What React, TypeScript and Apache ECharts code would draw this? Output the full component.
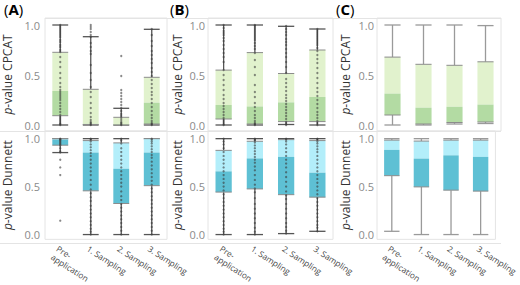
import React, { useEffect, useRef } from "react";
import * as echarts from "echarts";

const categories = ["Pre-\napplication", "1. Sampling", "2. Sampling", "3. Sampling"];
const panelLabels = ["A", "B", "C"];
const yTitleTop = "{i|p}-value CPCAT";
const yTitleBottom = "{i|p}-value Dunnett";

// box stats: [low whisker, q1, median, q3, high whisker]
const A_CPCAT_box = [[0, 0.093, 0.34, 0.727, 1.0], [0, 0.005, 0.012, 0.357, 0.883], [0, 0, 0.005, 0.077, 0.167], [0, 0.01, 0.223, 0.477, 0.957]];
const A_DUNNETT_box = [[0.855, 0.932, 0.99, 1.0, 1.0], [0, 0.456, 0.855, 0.98, 1.0], [0, 0.324, 0.686, 0.956, 1.0], [0, 0.51, 0.855, 1.0, 1.0]];
const B_CPCAT_box = [[0, 0.06, 0.2, 0.549, 1.0], [0, 0.01, 0.185, 0.724, 1.0], [0.005, 0.034, 0.226, 0.515, 0.987], [0, 0.034, 0.28, 0.75, 0.96]];
const B_DUNNETT_box = [[0, 0.443, 0.659, 0.878, 1.0], [0, 0.476, 0.794, 0.973, 1.0], [0.01, 0.416, 0.81, 0.99, 1.0], [0.034, 0.39, 0.645, 0.98, 1.0]];
const C_CPCAT_box = [[0, 0.1, 0.314, 0.679, 1.0], [0, 0.01, 0.173, 0.607, 1.0], [0.01, 0.025, 0.182, 0.597, 1.0], [0.015, 0.03, 0.204, 0.632, 0.994]];
const C_DUNNETT_box = [[0.034, 0.614, 0.883, 0.985, 1.0], [0, 0.497, 0.792, 0.975, 1.0], [0, 0.463, 0.826, 0.985, 1.0], [0, 0.453, 0.81, 0.985, 1.0]];

// individual p-values (points)
const A_CPCAT_pts = [
  [1.0, 0.98, 0.96, 0.94, 0.92, 0.9, 0.88, 0.85, 0.83, 0.8, 0.78, 0.75, 0.73, 0.68, 0.63, 0.58, 0.52, 0.47, 0.42, 0.38, 0.35, 0.33, 0.31, 0.29, 0.27, 0.25, 0.22, 0.19, 0.16, 0.13, 0.1, 0.08, 0.06, 0.04, 0.02, 0.01, 0],
  [1.0, 0.98, 0.96, 0.93, 0.9, 0.88, 0.82, 0.78, 0.74, 0.71, 0.6, 0.52, 0.45, 0.38, 0.33, 0.28, 0.22, 0.17, 0.12, 0.08, 0.05, 0.03, 0.02, 0.01, 0],
  [0.69, 0.49, 0.35, 0.32, 0.29, 0.26, 0.23, 0.2, 0.17, 0.14, 0.11, 0.09, 0.07, 0.05, 0.03, 0.02, 0.01, 0],
  [0.96, 0.9, 0.84, 0.79, 0.74, 0.7, 0.66, 0.62, 0.57, 0.53, 0.49, 0.45, 0.41, 0.37, 0.33, 0.3, 0.26, 0.22, 0.18, 0.14, 0.1, 0.07, 0.04, 0.02, 0.01, 0],
];
const A_DUNNETT_pts = [
  [1.0, 0.995, 0.99, 0.98, 0.97, 0.96, 0.95, 0.94, 0.93, 0.9, 0.87, 0.855, 0.78, 0.7, 0.62, 0.145],
  [1.0, 0.99, 0.97, 0.94, 0.91, 0.88, 0.85, 0.82, 0.78, 0.74, 0.7, 0.66, 0.62, 0.57, 0.52, 0.47, 0.43, 0.39, 0.35, 0.3, 0.26, 0.22, 0.18, 0.14, 0.1, 0.06, 0.03, 0],
  [1.0, 0.98, 0.95, 0.9, 0.86, 0.82, 0.78, 0.74, 0.7, 0.66, 0.62, 0.58, 0.54, 0.5, 0.45, 0.4, 0.36, 0.32, 0.28, 0.24, 0.2, 0.16, 0.12, 0.08, 0.04, 0],
  [1.0, 0.99, 0.97, 0.95, 0.92, 0.89, 0.86, 0.83, 0.8, 0.76, 0.72, 0.68, 0.64, 0.6, 0.56, 0.52, 0.48, 0.44, 0.4, 0.36, 0.32, 0.28, 0.24, 0.2, 0.16, 0.12, 0.08, 0.04, 0],
];
const B_CPCAT_pts = [
  [1.0, 0.97, 0.94, 0.92, 0.9, 0.87, 0.84, 0.8, 0.76, 0.72, 0.68, 0.63, 0.55, 0.5, 0.45, 0.4, 0.35, 0.3, 0.26, 0.22, 0.19, 0.16, 0.13, 0.1, 0.07, 0.05, 0.03, 0.01, 0],
  [1.0, 0.99, 0.97, 0.95, 0.93, 0.91, 0.89, 0.87, 0.85, 0.82, 0.79, 0.76, 0.72, 0.65, 0.58, 0.5, 0.4, 0.33, 0.28, 0.22, 0.18, 0.14, 0.1, 0.07, 0.04, 0.02, 0.01, 0],
  [0.99, 0.96, 0.93, 0.9, 0.86, 0.83, 0.8, 0.76, 0.72, 0.68, 0.63, 0.58, 0.52, 0.46, 0.42, 0.38, 0.34, 0.3, 0.27, 0.24, 0.21, 0.18, 0.15, 0.12, 0.09, 0.06, 0.03, 0.01, 0],
  [0.96, 0.94, 0.92, 0.9, 0.88, 0.86, 0.84, 0.82, 0.8, 0.77, 0.74, 0.7, 0.66, 0.62, 0.57, 0.52, 0.47, 0.42, 0.37, 0.33, 0.29, 0.25, 0.21, 0.17, 0.13, 0.1, 0.07, 0.04, 0.02, 0],
];
const B_DUNNETT_pts = [
  [1.0, 0.97, 0.94, 0.9, 0.86, 0.82, 0.78, 0.74, 0.7, 0.66, 0.62, 0.58, 0.54, 0.5, 0.46, 0.42, 0.38, 0.34, 0.3, 0.26, 0.22, 0.18, 0.14, 0.1, 0.06, 0.03, 0],
  [1.0, 0.99, 0.98, 0.96, 0.93, 0.9, 0.87, 0.84, 0.81, 0.78, 0.75, 0.71, 0.67, 0.62, 0.57, 0.52, 0.48, 0.44, 0.38, 0.32, 0.27, 0.22, 0.17, 0.12, 0.07, 0.03, 0],
  [1.0, 0.99, 0.97, 0.94, 0.9, 0.86, 0.82, 0.78, 0.74, 0.7, 0.65, 0.6, 0.55, 0.5, 0.45, 0.41, 0.37, 0.32, 0.27, 0.22, 0.17, 0.12, 0.08, 0.04, 0.01],
  [1.0, 0.99, 0.97, 0.95, 0.92, 0.89, 0.86, 0.82, 0.78, 0.74, 0.7, 0.66, 0.62, 0.58, 0.54, 0.5, 0.46, 0.42, 0.38, 0.34, 0.3, 0.26, 0.22, 0.18, 0.14, 0.1, 0.07, 0.034],
];

const FONT = "'Open Sans', 'Noto Sans', sans-serif";
const GREEN_LIGHT = "#e1f2cd";
const GREEN_DARK = "#b3dba3";
const BLUE_LIGHT = "#b3eefa";
const BLUE_DARK = "#5ec0d4";
const FRAME = "#e4e4e4";

type Panel = {
  left: number; width: number; labelX: number; yNameGap: number; yLabelMargin: number;
  topBox: number[][]; bottomBox: number[][]; topPts: number[][] | null; bottomPts: number[][] | null; whisker: string;
};

const panels: Panel[] = [
  { left: 45, width: 122, labelX: 4, yNameGap: 32, yLabelMargin: 5, topBox: A_CPCAT_box, bottomBox: A_DUNNETT_box, topPts: A_CPCAT_pts, bottomPts: A_DUNNETT_pts, whisker: "#555" },
  { left: 208, width: 125, labelX: 170, yNameGap: 25, yLabelMargin: 3, topBox: B_CPCAT_box, bottomBox: B_DUNNETT_box, topPts: B_CPCAT_pts, bottomPts: B_DUNNETT_pts, whisker: "#555" },
  { left: 377, width: 124, labelX: 336, yNameGap: 26, yLabelMargin: 3, topBox: C_CPCAT_box, bottomBox: C_DUNNETT_box, topPts: null, bottomPts: null, whisker: "#9a9a9a" },
];

const GRID_TOP = 18, GRID_MID = 131, GRID_BOTTOM = 243;

function boxRenderer(light: string, dark: string, whisker: string) {
  return (params: any, api: any) => {
    const x = api.value(0);
    const lo = api.coord([x, api.value(1)]);
    const q1 = api.coord([x, api.value(2)]);
    const md = api.coord([x, api.value(3)]);
    const q3 = api.coord([x, api.value(4)]);
    const hi = api.coord([x, api.value(5)]);
    const bw = api.size([1, 0])[0] * 0.52;
    const cx = lo[0];
    const x0 = cx - bw / 2, x1 = cx + bw / 2;
    const ls = { stroke: whisker, lineWidth: 1.3 };
    return {
      type: "group",
      children: [
        { type: "line", shape: { x1: cx, y1: hi[1], x2: cx, y2: q3[1] }, style: ls },
        { type: "line", shape: { x1: cx, y1: q1[1], x2: cx, y2: lo[1] }, style: ls },
        { type: "line", shape: { x1: x0, y1: hi[1], x2: x1, y2: hi[1] }, style: ls },
        { type: "line", shape: { x1: x0, y1: lo[1], x2: x1, y2: lo[1] }, style: ls },
        { type: "rect", shape: { x: x0, y: q3[1], width: bw, height: md[1] - q3[1] }, style: { fill: light } },
        { type: "rect", shape: { x: x0, y: md[1], width: bw, height: q1[1] - md[1] }, style: { fill: dark } },
        { type: "line", shape: { x1: x0, y1: q3[1], x2: x1, y2: q3[1] }, style: { stroke: "#8c8c8c", lineWidth: 1 } },
        { type: "line", shape: { x1: x0, y1: q1[1], x2: x1, y2: q1[1] }, style: { stroke: "#8c8c8c", lineWidth: 1 } },
      ],
    };
  };
}

const tickFormatter = (v: number) => (Math.abs(v * 2 - Math.round(v * 2)) < 1e-6 ? v.toFixed(1) : "");

export default function App() {
  const ref = useRef<HTMLDivElement>(null);
  useEffect(() => {
    document.body.style.margin = "0";
    if (!ref.current) return;
    const chart = echarts.init(ref.current, null, { renderer: "svg" });
    const grid: any[] = [];
    const xAxis: any[] = [];
    const yAxis: any[] = [];
    const series: any[] = [];
    const graphic: any[] = [];

    panels.forEach((p, i) => {
      [0, 1].forEach((row) => {
        const gi = i * 2 + row;
        const isTop = row === 0;
        grid.push({
          left: p.left, width: p.width,
          top: isTop ? GRID_TOP : GRID_MID,
          height: isTop ? GRID_MID - GRID_TOP : GRID_BOTTOM - GRID_MID,
          show: true, borderColor: FRAME, borderWidth: 1, backgroundColor: "transparent",
        });
        xAxis.push({
          type: "category", gridIndex: gi, data: categories,
          axisLine: { show: false }, axisTick: { show: false }, splitLine: { show: false },
          axisLabel: isTop
            ? { show: false }
            : {
                show: true, interval: 0, rotate: -33, margin: 4, fontSize: 8.3, lineHeight: 10,
                align: "left", verticalAlign: "top", color: "#444", fontFamily: FONT,
              },
        });
        yAxis.push({
          type: "value", gridIndex: gi,
          min: isTop ? -0.06 : -0.05, max: isTop ? 1.07 : 1.08, splitNumber: 2,
          axisLine: { show: false }, axisTick: { show: false }, splitLine: { show: false },
          axisLabel: { formatter: tickFormatter, fontSize: 11, color: "#8a8a8a", fontFamily: FONT, margin: p.yLabelMargin },
          name: isTop ? yTitleTop : yTitleBottom,
          nameLocation: "middle", nameGap: p.yNameGap, nameRotate: 90,
          nameTextStyle: {
            fontSize: 12, color: "#333", fontFamily: FONT,
            rich: { i: { fontStyle: "italic", fontSize: 12, color: "#333", fontFamily: FONT } },
          },
        });
        const boxes = isTop ? p.topBox : p.bottomBox;
        series.push({
          type: "custom", xAxisIndex: gi, yAxisIndex: gi, z: 2,
          renderItem: boxRenderer(isTop ? GREEN_LIGHT : BLUE_LIGHT, isTop ? GREEN_DARK : BLUE_DARK, p.whisker),
          encode: { x: 0, y: [1, 2, 3, 4, 5] },
          data: boxes.map((b, ci) => [ci, ...b]),
          clip: false,
        });
        const pts = isTop ? p.topPts : p.bottomPts;
        if (pts) {
          const data: number[][] = [];
          pts.forEach((arr, ci) => arr.forEach((v) => data.push([ci, v])));
          series.push({
            type: "scatter", xAxisIndex: gi, yAxisIndex: gi, z: 3,
            symbolSize: 2.3, itemStyle: { color: "#3a3a3a", opacity: 0.6 },
            data,
          });
        }
      });
      graphic.push({
        type: "text", left: p.labelX, top: 1,
        style: {
          text: "({b|" + panelLabels[i] + "})", fontSize: 15, fontFamily: FONT, fill: "#000",
          rich: { b: { fontWeight: "bold", fontSize: 15, fontFamily: FONT, fill: "#000" } },
        },
      });
    });

    [
      [45, GRID_TOP],
      [0, GRID_MID],
      [0, GRID_BOTTOM],
    ].forEach(([x0, y]) => {
      graphic.push({ type: "line", shape: { x1: x0, y1: y + 0.5, x2: 501, y2: y + 0.5 }, style: { stroke: FRAME, lineWidth: 1 }, z: 0 });
    });

    chart.setOption({ animation: false, grid, xAxis, yAxis, series, graphic });
    return () => chart.dispose();
  }, []);
  return <div ref={ref} style={{ width: 520, height: 285 }} />;
}
